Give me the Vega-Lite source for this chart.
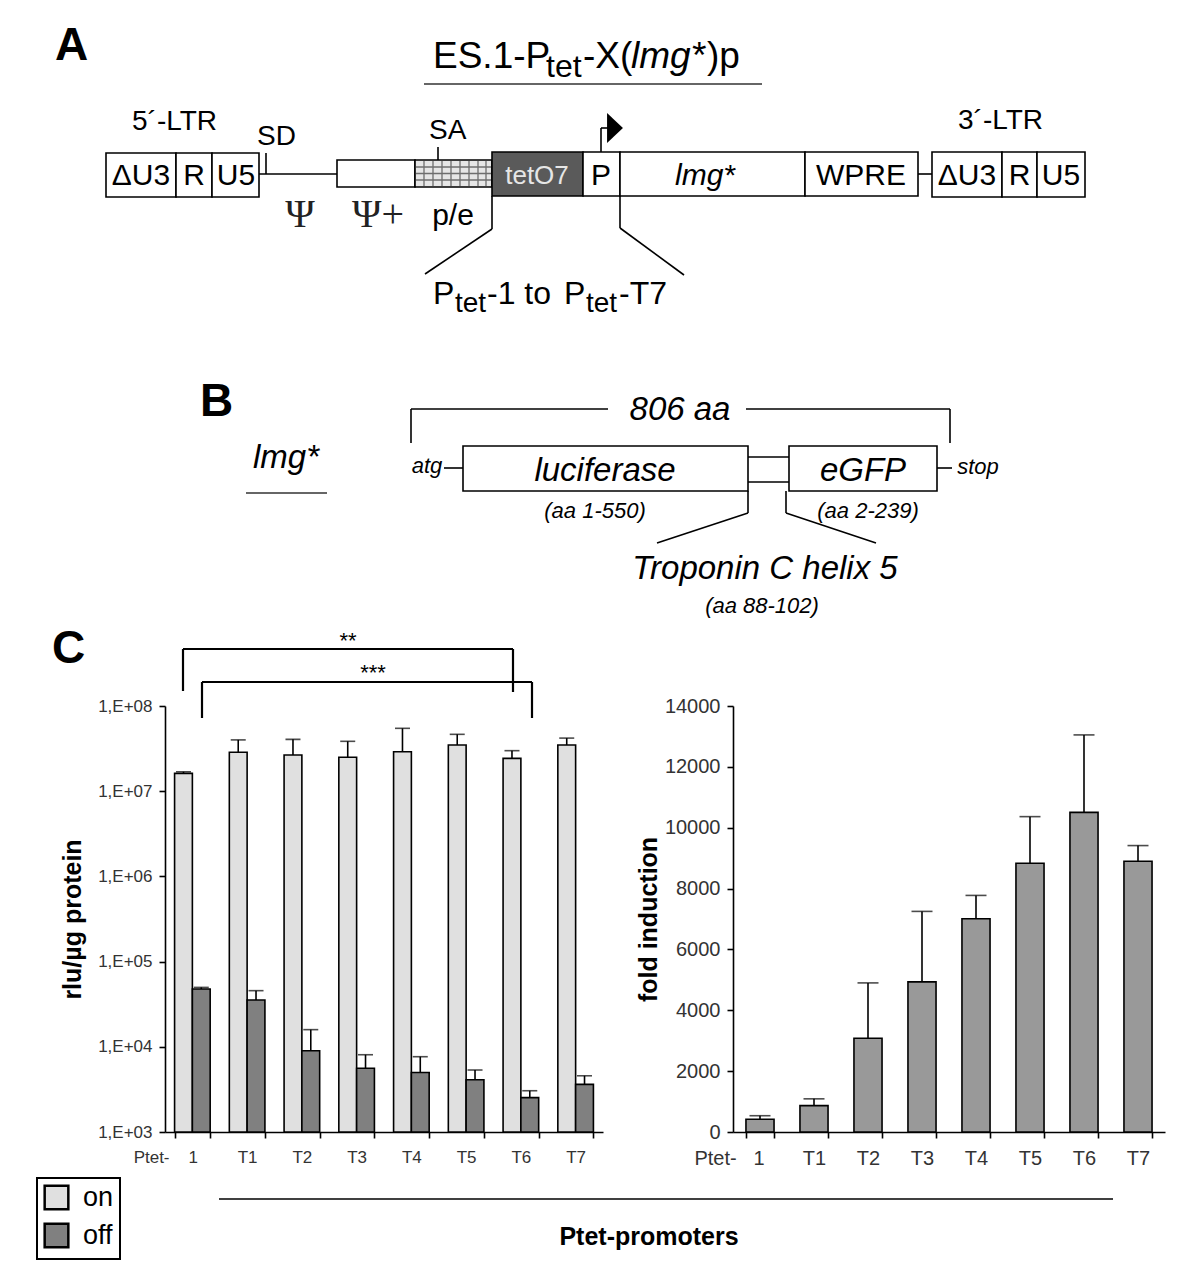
{
  "$schema": "https://vega.github.io/schema/vega-lite/v6.json",
  "background": "white",
  "padding": 0,
  "autosize": {"type": "pad"},
  "bounds": "flush",
  "spacing": 0,
  "datasets": {
    "boxes": [
      {"x": 106, "x2": 176, "y": 153, "y2": 197, "k": "white"},
      {"x": 176, "x2": 212, "y": 153, "y2": 197, "k": "white"},
      {"x": 212, "x2": 259, "y": 153, "y2": 197, "k": "white"},
      {"x": 337, "x2": 415, "y": 160, "y2": 187, "k": "white"},
      {"x": 415, "x2": 492, "y": 160, "y2": 187, "k": "hatch"},
      {"x": 492, "x2": 583, "y": 152, "y2": 196, "k": "dark"},
      {"x": 583, "x2": 620, "y": 152, "y2": 196, "k": "white"},
      {"x": 620, "x2": 805, "y": 152, "y2": 196, "k": "white"},
      {"x": 805, "x2": 918, "y": 152, "y2": 196, "k": "white"},
      {"x": 932, "x2": 1002, "y": 152, "y2": 197, "k": "white"},
      {"x": 1002, "x2": 1037, "y": 152, "y2": 197, "k": "white"},
      {"x": 1037, "x2": 1085, "y": 152, "y2": 197, "k": "white"},
      {"x": 463, "x2": 748, "y": 446, "y2": 491, "k": "white"},
      {"x": 789, "x2": 937, "y": 446, "y2": 491, "k": "white"}
    ],
    "hatch": [
      {"x": 424, "y": 161, "x2": 424, "y2": 186},
      {"x": 433, "y": 161, "x2": 433, "y2": 186},
      {"x": 442, "y": 161, "x2": 442, "y2": 186},
      {"x": 451, "y": 161, "x2": 451, "y2": 186},
      {"x": 460, "y": 161, "x2": 460, "y2": 186},
      {"x": 469, "y": 161, "x2": 469, "y2": 186},
      {"x": 478, "y": 161, "x2": 478, "y2": 186},
      {"x": 486, "y": 161, "x2": 486, "y2": 186},
      {"x": 416, "y": 167, "x2": 491, "y2": 167},
      {"x": 416, "y": 173.5, "x2": 491, "y2": 173.5},
      {"x": 416, "y": 180, "x2": 491, "y2": 180}
    ],
    "lines": [
      {"x": 266, "y": 153, "x2": 266, "y2": 174},
      {"x": 259, "y": 174, "x2": 337, "y2": 174},
      {"x": 438, "y": 147, "x2": 438, "y2": 160},
      {"x": 492, "y": 196, "x2": 492, "y2": 229},
      {"x": 492, "y": 229, "x2": 425, "y2": 274},
      {"x": 620, "y": 196, "x2": 620, "y2": 228},
      {"x": 620, "y": 228, "x2": 684, "y2": 275},
      {"x": 601, "y": 152, "x2": 601, "y2": 128},
      {"x": 601, "y": 128, "x2": 609, "y2": 128},
      {"x": 918, "y": 174, "x2": 932, "y2": 174},
      {"x": 411, "y": 443, "x2": 411, "y2": 409},
      {"x": 411, "y": 409, "x2": 608, "y2": 409},
      {"x": 746, "y": 409, "x2": 950, "y2": 409},
      {"x": 950, "y": 409, "x2": 950, "y2": 443},
      {"x": 444, "y": 468, "x2": 463, "y2": 468},
      {"x": 937, "y": 468, "x2": 952, "y2": 468},
      {"x": 748, "y": 457, "x2": 789, "y2": 457},
      {"x": 748, "y": 482, "x2": 789, "y2": 482},
      {"x": 748, "y": 491, "x2": 748, "y2": 513},
      {"x": 748, "y": 513, "x2": 657, "y2": 543},
      {"x": 786, "y": 491, "x2": 786, "y2": 513},
      {"x": 786, "y": 513, "x2": 876, "y2": 543},
      {"x": 219, "y": 1199, "x2": 1113, "y2": 1199}
    ],
    "brackets": [
      {"x": 183, "y": 691, "x2": 183, "y2": 649},
      {"x": 183, "y": 649, "x2": 513, "y2": 649},
      {"x": 513, "y": 649, "x2": 513, "y2": 692},
      {"x": 202, "y": 718, "x2": 202, "y2": 682},
      {"x": 202, "y": 682, "x2": 532, "y2": 682},
      {"x": 532, "y": 682, "x2": 532, "y2": 718}
    ],
    "underlines": [
      {"x": 424, "y": 84, "x2": 762, "y2": 84},
      {"x": 246, "y": 493, "x2": 327, "y2": 493}
    ],
    "arrow": [{"x": 615, "y": 128}],
    "labels": [
      {"x": 55, "y": 60, "t": "A", "g": "panel"},
      {"x": 200, "y": 416, "t": "B", "g": "panel"},
      {"x": 52, "y": 663, "t": "C", "g": "panel"},
      {"x": 433, "y": 68, "t": "ES.1-P", "g": "title"},
      {"x": 583, "y": 68, "t": "-X(", "g": "title"},
      {"x": 707, "y": 68, "t": ")p", "g": "title"},
      {"x": 631, "y": 68, "t": "lmg*", "g": "titleI"},
      {"x": 546, "y": 77, "t": "tet", "g": "sub"},
      {"x": 455, "y": 312, "t": "tet", "g": "sub2"},
      {"x": 586, "y": 312, "t": "tet", "g": "sub2"},
      {"x": 433, "y": 304, "t": "P", "g": "callout"},
      {"x": 487, "y": 304, "t": "-1 to ", "g": "callout"},
      {"x": 564, "y": 304, "t": "P", "g": "callout"},
      {"x": 619, "y": 304, "t": "-T7", "g": "callout"},
      {"x": 132, "y": 130, "t": "5´-LTR", "g": "ltr"},
      {"x": 958, "y": 129, "t": "3´-LTR", "g": "ltr"},
      {"x": 257, "y": 145, "t": "SD", "g": "ltr"},
      {"x": 429, "y": 139, "t": "SA", "g": "ltr"},
      {"x": 141, "y": 176, "t": "ΔU3", "g": "box"},
      {"x": 194, "y": 176, "t": "R", "g": "box"},
      {"x": 236, "y": 176, "t": "U5", "g": "box"},
      {"x": 601, "y": 176, "t": "P", "g": "box"},
      {"x": 861, "y": 176, "t": "WPRE", "g": "box"},
      {"x": 967, "y": 176, "t": "ΔU3", "g": "box"},
      {"x": 1019.5, "y": 176, "t": "R", "g": "box"},
      {"x": 1061, "y": 176, "t": "U5", "g": "box"},
      {"x": 453, "y": 216, "t": "p/e", "g": "box"},
      {"x": 705, "y": 176, "t": "lmg*", "g": "boxI"},
      {"x": 537, "y": 176, "t": "tetO7", "g": "teto"},
      {"x": 300, "y": 215, "t": "Ψ", "g": "psi"},
      {"x": 378, "y": 215, "t": "Ψ+", "g": "psi"},
      {"x": 680, "y": 420, "t": "806 aa", "g": "bi"},
      {"x": 605, "y": 481, "t": "luciferase", "g": "bi"},
      {"x": 863, "y": 481, "t": "eGFP", "g": "bi"},
      {"x": 765, "y": 579, "t": "Troponin C helix 5", "g": "bi"},
      {"x": 286, "y": 468, "t": "lmg*", "g": "bi"},
      {"x": 595, "y": 518, "t": "(aa 1-550)", "g": "bs"},
      {"x": 868, "y": 518, "t": "(aa 2-239)", "g": "bs"},
      {"x": 762, "y": 613, "t": "(aa 88-102)", "g": "bs"},
      {"x": 427, "y": 473, "t": "atg", "g": "bs"},
      {"x": 978, "y": 474, "t": "stop", "g": "bs"},
      {"x": 348, "y": 648, "t": "**", "g": "stars"},
      {"x": 373, "y": 680, "t": "***", "g": "stars"},
      {"x": 649, "y": 1245, "t": "Ptet-promoters", "g": "axisTitle"}
    ],
    "rlu": [
      {"promoter": "1", "cond": "on", "value": 16200000, "err": 16900000},
      {"promoter": "T1", "cond": "on", "value": 28600000, "err": 40000000},
      {"promoter": "T2", "cond": "on", "value": 26600000, "err": 40600000},
      {"promoter": "T3", "cond": "on", "value": 25000000, "err": 38500000},
      {"promoter": "T4", "cond": "on", "value": 29100000, "err": 54700000},
      {"promoter": "T5", "cond": "on", "value": 34900000, "err": 46500000},
      {"promoter": "T6", "cond": "on", "value": 24300000, "err": 29900000},
      {"promoter": "T7", "cond": "on", "value": 34900000, "err": 42000000},
      {"promoter": "1", "cond": "off", "value": 47700, "err": 49800},
      {"promoter": "T1", "cond": "off", "value": 35400, "err": 45600},
      {"promoter": "T2", "cond": "off", "value": 9000, "err": 15900},
      {"promoter": "T3", "cond": "off", "value": 5590, "err": 8070},
      {"promoter": "T4", "cond": "off", "value": 5000, "err": 7650},
      {"promoter": "T5", "cond": "off", "value": 4110, "err": 5340},
      {"promoter": "T6", "cond": "off", "value": 2530, "err": 3050},
      {"promoter": "T7", "cond": "off", "value": 3620, "err": 4570}
    ],
    "fold": [
      {"promoter": "1", "value": 420, "err": 535},
      {"promoter": "T1", "value": 866, "err": 1090},
      {"promoter": "T2", "value": 3080, "err": 4900},
      {"promoter": "T3", "value": 4935, "err": 7250},
      {"promoter": "T4", "value": 7010, "err": 7775},
      {"promoter": "T5", "value": 8834, "err": 10364},
      {"promoter": "T6", "value": 10505, "err": 13050},
      {"promoter": "T7", "value": 8899, "err": 9413}
    ]
  },
  "vconcat": [
    {
      "width": 1200,
      "height": 706,
      "encoding": {
        "x": {"field": "x", "type": "quantitative", "scale": {"domain": [0, 1200], "nice": false, "zero": false}, "axis": null},
        "y": {"field": "y", "type": "quantitative", "scale": {"domain": [0, 706], "reverse": true, "nice": false, "zero": false}, "axis": null}
      },
      "layer": [
        {
          "data": {"name": "boxes"},
          "mark": {"type": "rect", "stroke": "black", "strokeWidth": 1.6},
          "encoding": {
            "x2": {"field": "x2"},
            "y2": {"field": "y2"},
            "fill": {"field": "k", "type": "nominal", "scale": {"domain": ["white", "hatch", "dark"], "range": ["#ffffff", "#e6e6e6", "#5a5a5a"]}, "legend": null}
          }
        },
        {
          "data": {"name": "hatch"},
          "mark": {"type": "rule", "color": "#6e6e6e", "strokeWidth": 1.3},
          "encoding": {"x2": {"field": "x2"}, "y2": {"field": "y2"}}
        },
        {
          "data": {"name": "lines"},
          "mark": {"type": "rule", "color": "black", "strokeWidth": 1.6},
          "encoding": {"x2": {"field": "x2"}, "y2": {"field": "y2"}}
        },
        {
          "data": {"name": "brackets"},
          "mark": {"type": "rule", "color": "black", "strokeWidth": 2.2},
          "encoding": {"x2": {"field": "x2"}, "y2": {"field": "y2"}}
        },
        {
          "data": {"name": "underlines"},
          "mark": {"type": "rule", "color": "#333333", "strokeWidth": 1.3},
          "encoding": {"x2": {"field": "x2"}, "y2": {"field": "y2"}}
        },
        {
          "data": {"name": "arrow"},
          "mark": {"type": "point", "shape": "M-0.53,-1L0.53,0L-0.53,1Z", "filled": true, "color": "black", "size": 900, "opacity": 1},
          "encoding": {}
        },
        {
          "data": {"name": "labels"},
          "transform": [{"filter": "datum.g === 'panel'"}],
          "mark": {"type": "text", "font": "Liberation Sans", "fontSize": 46, "fontWeight": "bold", "align": "left", "baseline": "alphabetic", "color": "black"},
          "encoding": {"text": {"field": "t"}}
        },
        {
          "data": {"name": "labels"},
          "transform": [{"filter": "datum.g === 'title'"}],
          "mark": {"type": "text", "font": "Liberation Sans", "fontSize": 37, "align": "left", "baseline": "alphabetic", "color": "black"},
          "encoding": {"text": {"field": "t"}}
        },
        {
          "data": {"name": "labels"},
          "transform": [{"filter": "datum.g === 'titleI'"}],
          "mark": {"type": "text", "font": "Liberation Sans", "fontSize": 37, "fontStyle": "italic", "align": "left", "baseline": "alphabetic", "color": "black"},
          "encoding": {"text": {"field": "t"}}
        },
        {
          "data": {"name": "labels"},
          "transform": [{"filter": "datum.g === 'sub'"}],
          "mark": {"type": "text", "font": "Liberation Sans", "fontSize": 32, "align": "left", "baseline": "alphabetic", "color": "black"},
          "encoding": {"text": {"field": "t"}}
        },
        {
          "data": {"name": "labels"},
          "transform": [{"filter": "datum.g === 'sub2'"}],
          "mark": {"type": "text", "font": "Liberation Sans", "fontSize": 28, "align": "left", "baseline": "alphabetic", "color": "black"},
          "encoding": {"text": {"field": "t"}}
        },
        {
          "data": {"name": "labels"},
          "transform": [{"filter": "datum.g === 'callout'"}],
          "mark": {"type": "text", "font": "Liberation Sans", "fontSize": 32, "align": "left", "baseline": "alphabetic", "color": "black"},
          "encoding": {"text": {"field": "t"}}
        },
        {
          "data": {"name": "labels"},
          "transform": [{"filter": "datum.g === 'ltr'"}],
          "mark": {"type": "text", "font": "Liberation Sans", "fontSize": 28, "align": "left", "baseline": "alphabetic", "color": "black"},
          "encoding": {"text": {"field": "t"}}
        },
        {
          "data": {"name": "labels"},
          "transform": [{"filter": "datum.g === 'box'"}],
          "mark": {"type": "text", "font": "Liberation Sans", "fontSize": 30, "align": "center", "baseline": "middle", "color": "black"},
          "encoding": {"text": {"field": "t"}}
        },
        {
          "data": {"name": "labels"},
          "transform": [{"filter": "datum.g === 'boxI'"}],
          "mark": {"type": "text", "font": "Liberation Sans", "fontSize": 30, "fontStyle": "italic", "align": "center", "baseline": "middle", "color": "black"},
          "encoding": {"text": {"field": "t"}}
        },
        {
          "data": {"name": "labels"},
          "transform": [{"filter": "datum.g === 'teto'"}],
          "mark": {"type": "text", "font": "Liberation Sans", "fontSize": 26, "align": "center", "baseline": "middle", "color": "#e6e6e6"},
          "encoding": {"text": {"field": "t"}}
        },
        {
          "data": {"name": "labels"},
          "transform": [{"filter": "datum.g === 'psi'"}],
          "mark": {"type": "text", "font": "Liberation Serif", "fontSize": 40, "align": "center", "baseline": "middle", "color": "#222222"},
          "encoding": {"text": {"field": "t"}}
        },
        {
          "data": {"name": "labels"},
          "transform": [{"filter": "datum.g === 'bi'"}],
          "mark": {"type": "text", "font": "Liberation Sans Narrow, Liberation Sans", "fontSize": 33, "fontStyle": "italic", "align": "center", "baseline": "alphabetic", "color": "black"},
          "encoding": {"text": {"field": "t"}}
        },
        {
          "data": {"name": "labels"},
          "transform": [{"filter": "datum.g === 'bs'"}],
          "mark": {"type": "text", "font": "Liberation Sans Narrow, Liberation Sans", "fontSize": 22, "fontStyle": "italic", "align": "center", "baseline": "alphabetic", "color": "black"},
          "encoding": {"text": {"field": "t"}}
        },
        {
          "data": {"name": "labels"},
          "transform": [{"filter": "datum.g === 'stars'"}],
          "mark": {"type": "text", "font": "Liberation Sans", "fontSize": 22, "align": "center", "baseline": "alphabetic", "color": "black"},
          "encoding": {"text": {"field": "t"}}
        },
        {
          "data": {"name": "labels"},
          "transform": [{"filter": "datum.g === 'axisTitle'"}],
          "mark": {"type": "text", "font": "Liberation Sans", "fontSize": 25, "fontWeight": "bold", "align": "center", "baseline": "alphabetic", "color": "black"},
          "encoding": {"text": {"field": "t"}}
        }
      ]
    },
    {
      "hconcat": [
        {"width": 165, "height": 426, "data": {"values": []}, "mark": "point"},
        {
          "width": 438,
          "height": 426,
          "data": {"name": "rlu"},
          "encoding": {
            "x": {
              "field": "promoter", "type": "nominal", "sort": ["1", "T1", "T2", "T3", "T4", "T5", "T6", "T7"],
              "scale": {"paddingInner": 0.35, "paddingOuter": 0.175},
              "axis": {
                "title": null, "labelAngle": 0, "tickBand": "extent", "labelFontSize": 17, "labelPadding": 11,
                "labelExpr": "datum.value === '1' ? 'Ptet-\u00a0\u00a0\u00a0\u00a01' : datum.value",
                "labelAlign": {"condition": {"test": "datum.value === '1'", "value": "right"}, "value": "center"},
                "labelOffset": {"condition": {"test": "datum.value === '1'", "value": 5}, "value": 0}
              }
            },
            "xOffset": {"field": "cond", "type": "nominal", "sort": ["on", "off"]},
            "y": {
              "field": "value", "type": "quantitative", "stack": null,
              "scale": {"type": "log", "domain": [1000, 100000000], "nice": false},
              "axis": {
                "title": "rlu/µg protein", "values": [1000, 10000, 100000, 1000000, 10000000, 100000000],
                "labelExpr": "'1,E+0' + round(log(datum.value) / LN10)",
                "labelFontSize": 17, "labelPadding": 7, "titlePadding": 12, "titleFontSize": 25
              }
            }
          },
          "layer": [
            {
              "mark": {"type": "bar", "stroke": "black", "strokeWidth": 1.6},
              "encoding": {
                "y2": {"datum": 1000},
                "color": {
                  "field": "cond", "type": "nominal",
                  "scale": {"domain": ["on", "off"], "range": ["#e0e0e0", "#808080"]},
                  "legend": {
                    "title": null, "orient": "none", "legendX": 37, "legendY": 1178,
                    "symbolType": "square", "symbolSize": 560, "symbolStrokeColor": "black", "symbolStrokeWidth": 2.5,
                    "symbolOpacity": 1, "labelFontSize": 27, "labelFont": "Liberation Sans", "labelColor": "black",
                    "labelExpr": "datum.label + '\u00a0\u00a0\u00a0\u00a0\u00a0'",
                    "strokeColor": "black", "padding": 6, "rowPadding": 3, "labelOffset": 13
                  }
                }
              }
            },
            {
              "mark": {"type": "rule", "color": "black", "strokeWidth": 1.6},
              "encoding": {"y2": {"field": "err"}}
            },
            {
              "mark": {"type": "tick", "color": "black", "thickness": 1.6, "size": 15},
              "encoding": {"y": {"field": "err", "type": "quantitative"}}
            }
          ]
        },
        {"width": 130, "height": 426, "data": {"values": []}, "mark": "point"},
        {
          "width": 432,
          "height": 426,
          "data": {"name": "fold"},
          "encoding": {
            "x": {
              "field": "promoter", "type": "nominal", "sort": ["1", "T1", "T2", "T3", "T4", "T5", "T6", "T7"],
              "scale": {"paddingInner": 0.48, "paddingOuter": 0.24},
              "axis": {
                "title": null, "labelAngle": 0, "tickBand": "extent", "labelFontSize": 20, "labelPadding": 10,
                "labelExpr": "datum.value === '1' ? 'Ptet-\u00a0\u00a0\u00a01' : datum.value",
                "labelAlign": {"condition": {"test": "datum.value === '1'", "value": "right"}, "value": "center"},
                "labelOffset": {"condition": {"test": "datum.value === '1'", "value": 4}, "value": 0}
              }
            },
            "y": {
              "field": "value", "type": "quantitative",
              "scale": {"domain": [0, 14000], "nice": false},
              "axis": {
                "title": "fold induction", "values": [0, 2000, 4000, 6000, 8000, 10000, 12000, 14000], "format": "d",
                "labelFontSize": 20, "labelPadding": 7, "titlePadding": 3, "titleFontSize": 25
              }
            }
          },
          "layer": [
            {"mark": {"type": "bar", "fill": "#999999", "stroke": "black", "strokeWidth": 1.6}},
            {"mark": {"type": "rule", "color": "black", "strokeWidth": 1.6}, "encoding": {"y2": {"field": "err"}}},
            {"mark": {"type": "tick", "color": "black", "thickness": 1.6, "size": 21}, "encoding": {"y": {"field": "err", "type": "quantitative"}}}
          ]
        }
      ],
      "spacing": 0,
      "bounds": "flush"
    }
  ],
  "config": {
    "view": {"stroke": null},
    "axis": {
      "domainColor": "black", "domainWidth": 1.6, "tickColor": "black", "tickWidth": 1.6, "tickSize": 6,
      "labelColor": "#333333", "labelFont": "Liberation Sans", "titleFont": "Liberation Sans",
      "titleFontWeight": "bold", "titleColor": "black", "grid": false
    },
    "legend": {"strokeWidth": 2}
  }
}
